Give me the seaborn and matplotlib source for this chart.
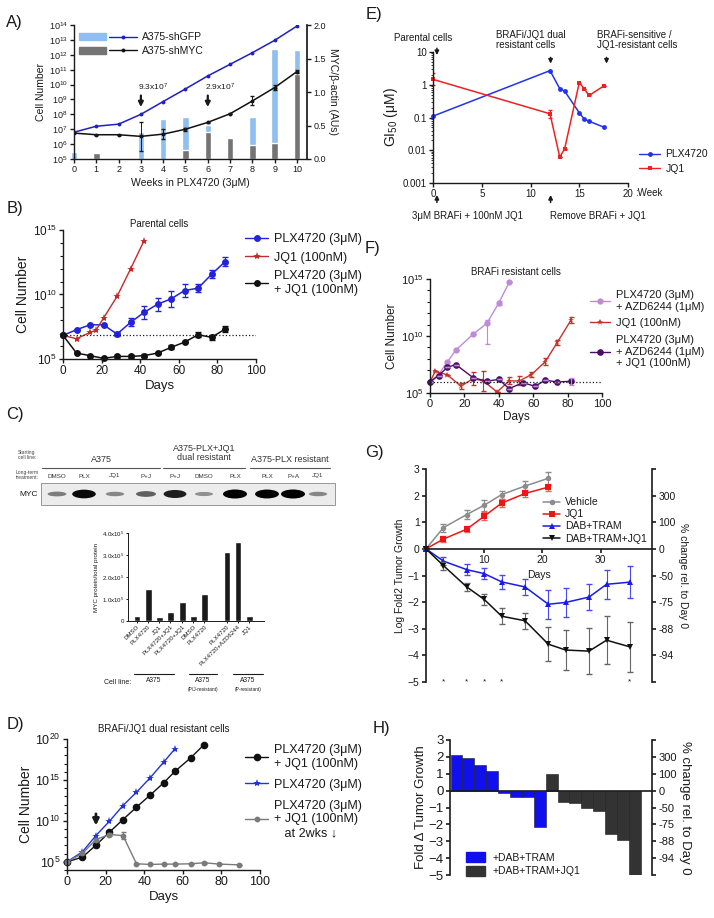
import numpy as np
import pandas as pd
import matplotlib
matplotlib.use('Agg')
import matplotlib.pyplot as plt
import matplotlib.ticker as mticker
from matplotlib.patches import Patch, Ellipse, Rectangle
from matplotlib.lines import Line2D
from matplotlib.legend_handler import HandlerTuple
import seaborn as sns

# ---------------- data (log10 cell numbers where noted) ----------------
# A) weeks in PLX4720
a_weeks = [0, 1, 2, 3, 4, 5, 6, 7, 8, 9, 10]
a_gfp_log = [6.8, 7.2, 7.34, 8.0, 8.86, 9.71, 10.58, 11.36, 12.14, 12.97, 13.93]
a_myc_log = [6.74, 6.63, 6.63, 6.52, 6.67, 7.0, 7.46, 8.04, 8.9, 9.8, 10.87]
a_myc_err = [0, 0, 0, 0.95, 0.33, 0.1, 0.05, 0.05, 0.3, 0.18, 0.1]
a_gfp_bar = [0.10, np.nan, np.nan, 0.40, 0.60, 0.625, 0.51, np.nan, 0.63, 1.64, 1.62]
a_myc_bar = [np.nan, 0.09, np.nan, np.nan, np.nan, 0.14, 0.40, 0.32, 0.21, 0.24, 1.27]

# B) parental cells
b_days = [0, 7, 14, 21, 28, 35, 42, 49, 56, 63, 70, 77, 84]
b_plx = [6.83, 7.27, 7.65, 7.65, 6.93, 7.84, 8.61, 9.25, 9.66, 10.31, 10.49, 11.57, 12.55]
b_plx_err = [0, 0, 0, 0, 0.15, 0.3, 0.5, 0.5, 0.65, 0.5, 0.3, 0.3, 0.35]
b_jq1_days = [0, 7, 14, 17, 21, 28, 35, 42]
b_jq1 = [6.83, 6.57, 7.06, 7.22, 8.17, 9.85, 11.98, 14.18]
b_combo = [6.83, 5.46, 5.26, 5.05, 5.2, 5.2, 5.26, 5.46, 5.9, 6.31, 6.88, 6.68, 7.32]
b_combo_err = [0, 0, 0, 0.1, 0.1, 0.1, 0.1, 0.1, 0.15, 0.1, 0.2, 0.2, 0.25]

# C) western blot + quantification
c_lanes = ['DMSO', 'PLX', 'JQ1', 'P+J', 'P+J', 'DMSO', 'PLX', 'PLX', 'P+A', 'JQ1']
c_band = [0.35, 0.95, 0.3, 0.5, 0.85, 0.25, 1.0, 0.98, 1.0, 0.3]
c_bar_labels = ['DMSO', 'PLX4720', 'JQ1', 'PLX4720+JQ1', 'PLX4720+JQ1', 'DMSO',
                'PLX4720', 'PLX4720', 'PLX4720+AZD6244', 'JQ1']
c_bar_vals = [0.23, 1.44, 0.18, 0.39, 0.86, 0.23, 1.21, 3.14, 3.6, 0.23]

# D) dual resistant cells
d_combo_days = [0, 8, 15, 22, 29, 36, 43, 50, 56, 64, 71]
d_combo = [5.0, 5.57, 7.03, 8.62, 10.16, 11.67, 13.13, 14.63, 16.06, 17.68, 19.31]
d_plx_days = [0, 8, 15, 22, 29, 36, 43, 50, 56]
d_plx = [5.0, 6.22, 8.21, 9.96, 11.87, 13.5, 15.24, 17.15, 18.82]
d_wd_days = [0, 8, 15, 22, 29, 36, 43, 50, 56, 64, 71, 79, 89]
d_wd = [5.0, 6.02, 7.72, 8.33, 8.21, 4.76, 4.68, 4.72, 4.72, 4.76, 4.88, 4.72, 4.63]
d_wd_err = [0, 0, 0.2, 0.2, 0.4, 0, 0, 0, 0, 0, 0.1, 0, 0]

# E) GI50 over time
e_weeks = [0, 12, 13, 13.5, 15, 15.5, 16, 17.5]
e_plx = [0.11, 2.7, 0.76, 0.64, 0.14, 0.09, 0.077, 0.051]
e_jq1 = [1.46, 0.13, 0.0062, 0.011, 1.16, 0.76, 0.47, 0.91]
e_jq1_err = [0.18, 0.12, 0, 0, 0, 0, 0, 0]

# F) BRAFi resistant cells
f_pa_days = [0, 5, 10, 15, 25, 33, 40, 46]
f_pa = [5.97, 6.62, 7.7, 8.76, 10.15, 11.1, 12.9, 14.7]
f_pa_lo = [0, 0, 0, 0, 0, 1.84, 0.15, 0]
f_pa_hi = [0, 0, 0, 0, 0, 0.3, 0.15, 0]
f_jq1_days = [0, 3, 10, 18, 25, 31, 39, 46, 52, 59, 67, 74, 82]
f_jq1 = [5.97, 6.9, 6.6, 5.6, 6.26, 6.06, 5.09, 6.06, 6.06, 6.62, 7.74, 9.44, 11.4]
f_jq1_err = [0, 0, 0, 0.25, 0.6, 0.9, 0, 0.3, 0.4, 0.25, 0.3, 0.2, 0.3]
f_tri_days = [0, 5, 10, 15, 25, 33, 40, 46, 54, 61, 67, 74, 82]
f_tri = [5.97, 6.53, 7.24, 7.5, 6.35, 6.03, 6.2, 5.38, 5.91, 5.59, 6.12, 5.97, 6.03]
f_tri_err = [0, 0, 0, 0, 0, 0, 0, 0, 0, 0, 0, 0, 0.3]

# G) tumour growth
g_days_short = [0, 3, 7, 10, 13, 17, 21]
g_days_long = [0, 3, 7, 10, 13, 17, 21, 24, 28, 31, 35]
g_veh = [0, 0.8, 1.29, 1.64, 2.04, 2.36, 2.65]
g_veh_err = [0, 0.15, 0.17, 0.2, 0.15, 0.18, 0.25]
g_jq1 = [0, 0.37, 0.74, 1.23, 1.72, 2.08, 2.32]
g_jq1_err = [0, 0.1, 0.12, 0.15, 0.15, 0.15, 0.13]
g_dt = [0, -0.46, -0.78, -0.93, -1.24, -1.43, -2.08, -2.01, -1.81, -1.33, -1.25]
g_dt_err = [0, 0.15, 0.2, 0.2, 0.25, 0.3, 0.55, 0.55, 0.5, 0.55, 0.6]
g_dtj = [0, -0.63, -1.43, -1.9, -2.53, -2.7, -3.58, -3.8, -3.84, -3.43, -3.68]
g_dtj_err = [0, 0.15, 0.15, 0.2, 0.3, 0.3, 0.65, 0.75, 0.85, 0.9, 0.95]
g_sig_days = [3, 7, 10, 13, 35]
pct_ticks = [3, 2, 1, 0, -1, -2, -3, -4, -5]
pct_labels = ['', '300', '100', '0', '-50', '-75', '-88', '-94', '']

# H) waterfall
h_fold = [2.1, 1.95, 1.52, 1.15, -0.15, -0.35, -0.4, -2.15,
          1.0, -0.68, -0.75, -1.05, -1.18, -2.55, -2.95, -5.0]
h_arm = ['+DAB+TRAM'] * 8 + ['+DAB+TRAM+JQ1'] * 8


def to_cells(logs):
    return 10.0 ** np.asarray(logs, dtype=float)


def log_err(logs, lo, hi=None):
    logs = np.asarray(logs, dtype=float)
    lo = np.asarray(lo, dtype=float)
    hi = lo if hi is None else np.asarray(hi, dtype=float)
    return [10 ** logs - 10 ** (logs - lo), 10 ** (logs + hi) - 10 ** logs]


sns.set_theme(style='ticks')
plt.rcParams['font.family'] = ['Liberation Sans', 'DejaVu Sans']
plt.rcParams['mathtext.fontset'] = 'custom'
plt.rcParams['mathtext.rm'] = 'Liberation Sans'
plt.rcParams['mathtext.it'] = 'Liberation Sans:italic'
plt.rcParams['axes.edgecolor'] = 'k'
plt.rcParams['text.color'] = 'k'
plt.rcParams['axes.labelcolor'] = 'k'
plt.rcParams['xtick.color'] = 'k'
plt.rcParams['ytick.color'] = 'k'

W, H = 714, 918
fig = plt.figure(figsize=(W / 100, H / 100), dpi=100)


def px_axes(l, t, r, b):
    return fig.add_axes([l / W, 1 - b / H, (r - l) / W, (b - t) / H])


def fpt(x, y):
    return (x / W, 1 - y / H)


def style(ax, fs, lw=1.0):
    for s in ['top', 'right']:
        ax.spines[s].set_visible(False)
    for s in ['left', 'bottom']:
        ax.spines[s].set_linewidth(lw)
    ax.tick_params(labelsize=fs, width=lw, length=3, pad=1.5)
    ax.tick_params(which='minor', width=lw * 0.8, length=2)


pow10 = mticker.FuncFormatter(lambda v, p: '$10^{%d}$' % round(np.log10(v)))


def line_handle(color, marker, ms, lw=1.0):
    return Line2D([], [], color=color, marker=marker, markersize=ms, lw=lw, markeredgewidth=0)


# ---------------- A ----------------
axA = px_axes(74, 25, 307, 159)
axA2 = axA.twinx()
axA2.bar(a_weeks, a_gfp_bar, width=0.29, color='#8fbef0', clip_on=False)
axA2.bar(a_weeks, a_myc_bar, width=0.29, color='#747474', clip_on=False)
axA2.set_ylim(0, 2)
axA2.set_yticks([0, 0.5, 1, 1.5, 2])
axA2.yaxis.set_major_formatter(mticker.FormatStrFormatter('%.1f'))
axA2.tick_params(labelsize=6.5, width=1, length=3, pad=1.5)
for s in ['top', 'left', 'bottom']:
    axA2.spines[s].set_visible(False)
axA2.set_ylabel('MYC/β-actin (AUs)', rotation=270, labelpad=9, fontsize=7.5)
axA.set_zorder(axA2.get_zorder() + 1)
axA.patch.set_visible(False)

sns.lineplot(x=a_weeks, y=to_cells(a_gfp_log), ax=axA, color='#1f1fc8', marker='o',
             markersize=2.8, markeredgewidth=0, linewidth=1.1)
sns.lineplot(x=a_weeks, y=to_cells(a_myc_log), ax=axA, color='#111111', marker='o',
             markersize=2.8, markeredgewidth=0, linewidth=1.1)
axA.errorbar(a_weeks, to_cells(a_myc_log), yerr=log_err(a_myc_log, a_myc_err), fmt='none',
             ecolor='k', elinewidth=0.7, capsize=1.2)
axA.set_yscale('log')
axA.set_ylim(1e5, 1e14)
axA.set_yticks(10.0 ** np.arange(5, 15))
axA.yaxis.set_major_formatter(pow10)
axA.yaxis.set_minor_locator(mticker.NullLocator())
axA.set_xlim(0, 10.45)
axA.set_xticks(a_weeks)
style(axA, 6.5)
axA.set_ylabel('Cell Number', fontsize=7.5, labelpad=2)
axA.set_xlabel('Weeks in PLX4720 (3μM)', fontsize=7.5, labelpad=3)
for wk, lab in [(3, '9.3x10$^7$'), (6, '2.9x10$^7$')]:
    axA.annotate('', xy=(wk, 10 ** 8.3), xytext=(wk, 10 ** 9.45),
                 arrowprops=dict(arrowstyle='-|>', lw=1.6, color='k', mutation_scale=7))
    axA.text(wk - 0.12, 10 ** 9.78, lab, fontsize=6, ha='left', va='center')
axA.legend(handles=[(Patch(color='#8fbef0'), line_handle('#1f1fc8', 'o', 2.8)),
                    (Patch(color='#747474'), line_handle('#111111', 'o', 2.8))],
           labels=['A375-shGFP', 'A375-shMYC'], loc='upper left', bbox_to_anchor=fpt(72, 25),
           bbox_transform=fig.transFigure, frameon=False, fontsize=7.5, handlelength=5.5,
           handler_map={tuple: HandlerTuple(ndivide=None, pad=0.3)}, borderpad=0.2,
           labelspacing=0.35, handletextpad=0.5)

# ---------------- B ----------------
axB = px_axes(63, 230, 256, 359)
sns.lineplot(x=b_days, y=to_cells(b_plx), ax=axB, color='#2323d8', marker='o', markersize=5,
             markeredgewidth=0, linewidth=1.1, clip_on=False)
axB.errorbar(b_days, to_cells(b_plx), yerr=log_err(b_plx, b_plx_err), fmt='none',
             ecolor='#2323d8', elinewidth=0.8, capsize=2)
sns.lineplot(x=b_jq1_days, y=to_cells(b_jq1), ax=axB, color='#c42a2a', marker='*',
             markersize=6, markeredgewidth=0, linewidth=1.0, clip_on=False)
sns.lineplot(x=b_days, y=to_cells(b_combo), ax=axB, color='#111111', marker='o', markersize=5,
             markeredgewidth=0, linewidth=1.1, clip_on=False)
axB.errorbar(b_days, to_cells(b_combo), yerr=log_err(b_combo, b_combo_err), fmt='none',
             ecolor='#111111', elinewidth=0.8, capsize=2)
axB.axhline(10 ** b_plx[0], ls=':', color='k', lw=0.9)
axB.set_yscale('log')
axB.set_ylim(1e5, 1e15)
axB.set_yticks([1e5, 1e10, 1e15])
axB.yaxis.set_major_formatter(pow10)
axB.yaxis.set_minor_locator(mticker.FixedLocator(10.0 ** np.arange(5, 16)))
axB.yaxis.set_minor_formatter(mticker.NullFormatter())
axB.set_xlim(0, 100)
axB.set_xticks([0, 20, 40, 60, 80, 100])
style(axB, 8.5)
axB.set_ylabel('Cell Number', fontsize=10, labelpad=2)
axB.set_xlabel('Days', fontsize=9.5, labelpad=2)
axB.set_title('Parental cells', fontsize=7, pad=2)
axB.legend(handles=[line_handle('#2323d8', 'o', 5), line_handle('#c42a2a', '*', 6),
                    line_handle('#111111', 'o', 5)],
           labels=['PLX4720 (3μM)', 'JQ1 (100nM)', 'PLX4720 (3μM)\n+ JQ1 (100nM)'],
           loc='upper left', bbox_to_anchor=fpt(234, 222), bbox_transform=fig.transFigure,
           frameon=False, fontsize=9, handlelength=1.8, labelspacing=0.5, handletextpad=0.5)

# ---------------- C (blot drawn in overlay below) ----------------
axC = px_axes(128, 533, 264, 621)
c_pos = [0, 1, 2, 3, 4.1, 5.1, 6.1, 8.15, 9.15, 10.15]
axC.bar(c_pos, c_bar_vals, width=0.62, color='k')
axC.set_xlim(-0.82, 11.5)
axC.set_ylim(0, 4)
axC.set_yticks([0, 1, 2, 3, 4], ['0', '1.0x10$^5$', '2.0x10$^5$', '3.0x10$^5$', '4.0x10$^5$'])
axC.set_xticks(c_pos)
axC.set_xticklabels(c_bar_labels, rotation=45, ha='right', rotation_mode='anchor')
style(axC, 4.4, lw=0.7)
axC.tick_params(length=1.5, pad=1)
axC.set_ylabel('MYC protein/total protein', fontsize=4.5, labelpad=2)

# ---------------- D ----------------
axD = px_axes(67, 739, 260, 870)
sns.lineplot(x=d_combo_days, y=to_cells(d_combo), ax=axD, color='#111111', marker='o',
             markersize=5.5, markeredgewidth=0, linewidth=1.0, clip_on=False)
sns.lineplot(x=d_plx_days, y=to_cells(d_plx), ax=axD, color='#2233dd', marker='*',
             markersize=6, markeredgewidth=0, linewidth=1.0, clip_on=False)
sns.lineplot(x=d_wd_days, y=to_cells(d_wd), ax=axD, color='#7a7a7a', marker='o',
             markersize=4.2, markeredgewidth=0, linewidth=1.0, clip_on=False)
axD.errorbar(d_wd_days, to_cells(d_wd), yerr=log_err(d_wd, d_wd_err), fmt='none',
             ecolor='#7a7a7a', elinewidth=0.8, capsize=1.8)
axD.annotate('', xy=(15, 10 ** 9.1), xytext=(15, 10 ** 11.2),
             arrowprops=dict(arrowstyle='-|>', lw=2, color='k', mutation_scale=9))
axD.set_yscale('log')
axD.set_ylim(1e4, 1e20)
axD.set_yticks([1e5, 1e10, 1e15, 1e20])
axD.yaxis.set_major_formatter(pow10)
axD.yaxis.set_minor_locator(mticker.FixedLocator(10.0 ** np.arange(4, 21)))
axD.yaxis.set_minor_formatter(mticker.NullFormatter())
axD.set_xlim(0, 100)
axD.set_xticks([0, 20, 40, 60, 80, 100])
style(axD, 9)
axD.set_ylabel('Cell Number', fontsize=10, labelpad=2)
axD.set_xlabel('Days', fontsize=9.5, labelpad=2)
axD.set_title('BRAFi/JQ1 dual resistant cells', fontsize=7, pad=5)
axD.legend(handles=[line_handle('#111111', 'o', 5.5), line_handle('#2233dd', '*', 6),
                    line_handle('#7a7a7a', 'o', 4.2)],
           labels=['PLX4720 (3μM)\n+ JQ1 (100nM)', 'PLX4720 (3μM)',
                   'PLX4720 (3μM)\n+ JQ1 (100nM)\n   at 2wks ↓'],
           loc='upper left', bbox_to_anchor=fpt(234, 733), bbox_transform=fig.transFigure,
           frameon=False, fontsize=9, handlelength=1.8, labelspacing=0.7, handletextpad=0.5)

# ---------------- E ----------------
axE = px_axes(433, 52, 628, 183)
sns.lineplot(x=e_weeks, y=e_plx, ax=axE, color='#2233ee', marker='o', markersize=3.5,
             markeredgewidth=0, linewidth=1.1, clip_on=False)
sns.lineplot(x=e_weeks, y=e_jq1, ax=axE, color='#ee2222', marker='s', markersize=3.5,
             markeredgewidth=0, linewidth=1.1, clip_on=False)
e_jl = np.log10(e_jq1)
axE.errorbar(e_weeks, e_jq1, yerr=log_err(e_jl, e_jq1_err), fmt='none', ecolor='#ee2222',
             elinewidth=0.8, capsize=1.5)
axE.set_yscale('log')
axE.set_ylim(1e-3, 10)
axE.set_yticks([1e-3, 1e-2, 1e-1, 1, 10], ['0.001', '0.01', '0.1', '1', '10'])
axE.yaxis.set_minor_locator(mticker.LogLocator(base=10, subs=np.arange(2, 10), numticks=20))
axE.yaxis.set_minor_formatter(mticker.NullFormatter())
axE.set_xlim(0, 20)
axE.set_xticks([0, 5, 10, 15, 20])
style(axE, 7)
axE.tick_params(which='minor', length=1.3, width=0.6)
axE.set_ylabel('GI$_{50}$ (μM)', fontsize=10, labelpad=2)
xt = axE.get_xaxis_transform()
axE.text(20.7, -0.076, ':Week', transform=xt, fontsize=7, ha='left', va='center')
arrow_kw = dict(arrowstyle='-|>', lw=1.1, color='k', mutation_scale=6)
for xw, y0, y1 in [(0.4, 1.05, 0.955), (12.06, 0.98, 0.89), (17.8, 0.98, 0.89)]:
    axE.annotate('', xy=(xw, y1), xytext=(xw, y0), xycoords=xt, textcoords=xt, arrowprops=arrow_kw)
for xw in [0.4, 12.06]:
    axE.annotate('', xy=(xw, -0.07), xytext=(xw, -0.17), xycoords=xt, textcoords=xt,
                 arrowprops=arrow_kw, annotation_clip=False)
axE.text(-1.0, 1.105, 'Parental cells', transform=xt, fontsize=7, ha='center', va='center')
axE.text(6.5, 1.09, 'BRAFi/JQ1 dual\nresistant cells', transform=xt, fontsize=7, ha='left',
         va='center', linespacing=1.0)
axE.text(16.8, 1.09, 'BRAFi-sensitive /\nJQ1-resistant cells', transform=xt, fontsize=7,
         ha='left', va='center', linespacing=1.0)
axE.text(3.5, -0.25, '3μM BRAFi + 100nM JQ1', transform=xt, fontsize=7, ha='center', va='center')
axE.text(16.9, -0.25, 'Remove BRAFi + JQ1', transform=xt, fontsize=7, ha='center', va='center')
axE.legend(handles=[line_handle('#2233ee', 'o', 3.5), line_handle('#ee2222', 's', 3.5)],
           labels=['PLX4720', 'JQ1'], loc='upper left', bbox_to_anchor=fpt(630, 140),
           bbox_transform=fig.transFigure, frameon=False, fontsize=7.5, handlelength=2,
           labelspacing=0.4, handletextpad=0.5)

# ---------------- F ----------------
axF = px_axes(430, 279, 602, 393)
c_lp, c_red, c_dp = '#c08ad8', '#c8302c', '#4a0d68'
sns.lineplot(x=f_pa_days, y=to_cells(f_pa), ax=axF, color=c_lp, marker='o', markersize=4.5,
             markeredgewidth=0, linewidth=1.0, clip_on=False)
axF.errorbar(f_pa_days, to_cells(f_pa), yerr=log_err(f_pa, f_pa_lo, f_pa_hi), fmt='none',
             ecolor=c_lp, elinewidth=0.8, capsize=1.8)
sns.lineplot(x=f_jq1_days, y=to_cells(f_jq1), ax=axF, color=c_red, marker='*', markersize=5,
             markeredgewidth=0, linewidth=1.0, clip_on=False)
axF.errorbar(f_jq1_days, to_cells(f_jq1), yerr=log_err(f_jq1, f_jq1_err), fmt='none',
             ecolor=c_red, elinewidth=0.8, capsize=1.8)
sns.lineplot(x=f_tri_days, y=to_cells(f_tri), ax=axF, color=c_dp, marker='o', markersize=4.8,
             markeredgewidth=0, linewidth=1.0, clip_on=False)
axF.errorbar(f_tri_days, to_cells(f_tri), yerr=log_err(f_tri, f_tri_err), fmt='none',
             ecolor=c_lp, elinewidth=0.8, capsize=1.8)
axF.axhline(10 ** f_pa[0], ls=':', color='k', lw=0.9)
axF.set_yscale('log')
axF.set_ylim(1e5, 1e15)
axF.set_yticks([1e5, 1e10, 1e15])
axF.yaxis.set_major_formatter(pow10)
axF.yaxis.set_minor_locator(mticker.FixedLocator(10.0 ** np.arange(5, 16)))
axF.yaxis.set_minor_formatter(mticker.NullFormatter())
axF.set_xlim(0, 100)
axF.set_xticks([0, 20, 40, 60, 80, 100])
style(axF, 8)
axF.set_ylabel('Cell Number', fontsize=8.5, labelpad=2)
axF.set_xlabel('Days', fontsize=8.5, labelpad=1)
axF.set_title('BRAFi resistant cells', fontsize=7, pad=3)
axF.legend(handles=[line_handle(c_lp, 'o', 4.5), line_handle(c_red, '*', 5),
                    line_handle(c_dp, 'o', 4.8)],
           labels=['PLX4720 (3μM)\n+ AZD6244 (1μM)', 'JQ1 (100nM)',
                   'PLX4720 (3μM)\n+ AZD6244 (1μM)\n+ JQ1 (100nM)'],
           loc='upper left', bbox_to_anchor=fpt(580, 280), bbox_transform=fig.transFigure,
           frameon=False, fontsize=8, handlelength=1.8, labelspacing=0.6, handletextpad=0.5)

# ---------------- G ----------------
axG = px_axes(426, 469, 652, 682)
g_series = [(g_days_short, g_veh, g_veh_err, '#8c8c8c', 'o', 'Vehicle'),
            (g_days_short, g_jq1, g_jq1_err, '#ee1515', 's', 'JQ1'),
            (g_days_long, g_dt, g_dt_err, '#1a1aee', '^', 'DAB+TRAM'),
            (g_days_long, g_dtj, g_dtj_err, '#111111', 'v', 'DAB+TRAM+JQ1')]
g_ecolor = ['#8c8c8c', '#ee6060', '#4a4af0', '#666666']
for (dd, vv, ee, cc, mm, lab), ec in zip(g_series, g_ecolor):
    axG.errorbar(dd, vv, yerr=ee, fmt='none', ecolor=ec, elinewidth=0.8, capsize=2)
    sns.lineplot(x=dd, y=vv, ax=axG, color=cc, marker=mm, markersize=4, markeredgewidth=0,
                 linewidth=1.1, label=lab, clip_on=False)
for d in g_sig_days:
    axG.text(d, -5, '*', fontsize=6, ha='center', va='center')
axG.set_xlim(0, 38.8)
axG.set_ylim(-5, 3)
axG.set_yticks([3, 2, 1, 0, -1, -2, -3, -4, -5])
axG.set_xticks([10, 20, 30])
style(axG, 7.5, lw=1.2)
axG.spines['bottom'].set_position(('data', 0))
axG.text(19.4, -1.0, 'Days', fontsize=7.5, ha='center', va='center')
axG.set_ylabel('Log Fold2 Tumor Growth', fontsize=7.5, labelpad=2)
axG.legend(loc='upper left', bbox_to_anchor=fpt(536, 490), bbox_transform=fig.transFigure,
           frameon=False, fontsize=7.5, handlelength=1.6, labelspacing=0.2, handletextpad=0.5,
           borderpad=0.2)
axG2 = axG.twinx()
axG2.set_ylim(-5, 3)
axG2.set_yticks(pct_ticks, pct_labels)
for s in ['top', 'left', 'bottom']:
    axG2.spines[s].set_visible(False)
axG2.spines['right'].set_linewidth(1.2)
axG2.tick_params(labelsize=7.5, width=1.2, length=3, pad=1.5)
axG2.set_ylabel('% change rel. to Day 0', rotation=270, fontsize=7.5, labelpad=9)

# ---------------- H ----------------
axH = px_axes(450, 740, 652, 875)
h_df = pd.DataFrame({'tumor': np.arange(len(h_fold)), 'fold': h_fold, 'arm': h_arm})
sns.barplot(data=h_df, x='tumor', y='fold', hue='arm', palette=['#1010ee', '#333333'],
            dodge=False, width=1.0, saturation=1, edgecolor='k', linewidth=0.4,
            errorbar=None, legend=False, ax=axH)
axH.set_xlim(-0.55, 16.45)
axH.set_ylim(-5, 3)
axH.set_yticks([3, 2, 1, 0, -1, -2, -3, -4, -5])
axH.set_xticks([])
axH.set_xlabel('')
style(axH, 9.5, lw=1.2)
axH.spines['bottom'].set_position(('data', 0))
axH.set_ylabel('Fold Δ Tumor Growth', fontsize=9.5, labelpad=1)
axH.legend(handles=[Patch(color='#1010ee'), Patch(color='#333333')],
           labels=['+DAB+TRAM', '+DAB+TRAM+JQ1'], loc='upper left',
           bbox_to_anchor=fpt(457, 843), bbox_transform=fig.transFigure, frameon=False,
           fontsize=7.5, handlelength=1.8, handleheight=1.0, labelspacing=0.35,
           handletextpad=0.7)
axH2 = axH.twinx()
axH2.set_ylim(-5, 3)
axH2.set_yticks(pct_ticks, pct_labels)
for s in ['top', 'left', 'bottom']:
    axH2.spines[s].set_visible(False)
axH2.spines['right'].set_linewidth(1.2)
axH2.tick_params(labelsize=8, width=1.2, length=3, pad=1.5)
axH2.set_ylabel('% change rel. to Day 0', rotation=270, fontsize=9.5, labelpad=10)

# ---------------- overlay: panel letters, blot, C annotations ----------------
ov = fig.add_axes([0, 0, 1, 1])
ov.set_xlim(0, W)
ov.set_ylim(H, 0)
ov.axis('off')
for lab, x, y in [('A)', 6, 22), ('B)', 7, 208), ('C)', 6, 415), ('D)', 7, 724),
                  ('E)', 366, 15), ('F)', 365, 248), ('G)', 365, 452), ('H)', 373, 728)]:
    ov.text(x, y, lab, fontsize=12, ha='left', va='center')

# blot header
lane_x = [57, 84, 115, 146, 175, 204, 235, 267, 293, 318]
ov.text(27, 455, 'Starting\ncell line:', fontsize=3.6, ha='center', va='center', color='#444',
        linespacing=1.0)
ov.text(27, 475, 'Long-term\ntreatment:', fontsize=3.6, ha='center', va='center', color='#444',
        linespacing=1.0)
ov.text(29, 494, 'MYC', fontsize=6, ha='center', va='center')
for name, x0, x1, ty in [('A375', 42, 160, 459), ('A375-PLX+JQ1\ndual resistant', 163, 245, 453),
                         ('A375-PLX resistant', 250, 330, 459)]:
    ov.plot([x0, x1], [468, 468], color='#555', lw=0.8)
    ov.text((x0 + x1) / 2, ty, name, fontsize=6.5, ha='center', va='center', color='#333',
            linespacing=1.1)
for x, lane in zip(lane_x, c_lanes):
    ov.text(x, 476, lane, fontsize=4.5, ha='center', va='center', color='#333')
ov.add_patch(Rectangle((41, 483), 294, 22, facecolor='#ececec', edgecolor='#888', lw=0.6))
for x, b in zip(lane_x, c_band):
    g = 0.75 * (1 - b)
    ov.add_patch(Ellipse((x, 494), 16 + 8 * b, 2.5 + 6.5 * b, facecolor=(g, g, g), lw=0))

# cell line row under the quantification
ov.text(118, 682, 'Cell line:', fontsize=5, ha='center', va='center')
for name, sub, x0, x1 in [('A375', '', 134, 174), ('A375', '(P/J-resistant)', 189, 217),
                          ('A375', '(P-resistant)', 233, 263)]:
    ov.plot([x0, x1], [674, 674], color='k', lw=0.8)
    ov.text((x0 + x1) / 2, 681, name, fontsize=4.8, ha='center', va='center')
    if sub:
        ov.text((x0 + x1) / 2, 689, sub, fontsize=3.5, ha='center', va='center')

fig.savefig('out.png', dpi=100)
